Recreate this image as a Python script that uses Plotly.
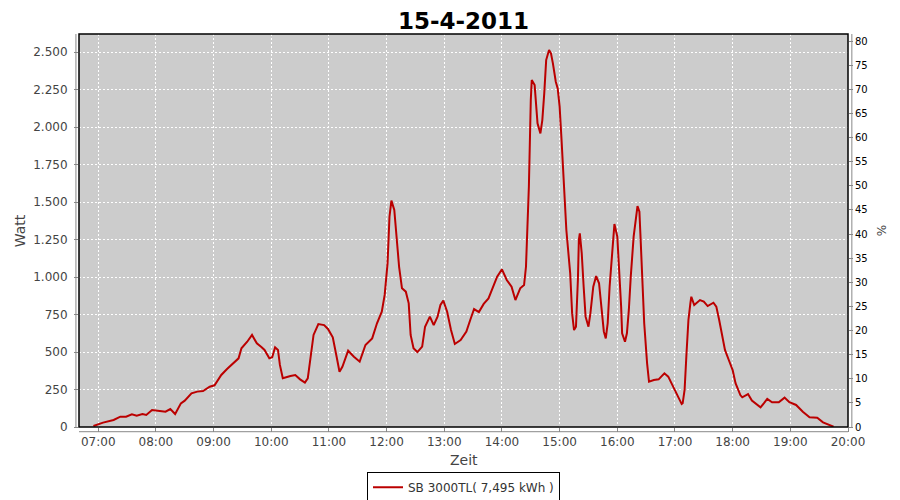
import plotly.graph_objects as go

times = ["06:55","07:05","07:16","07:23","07:29","07:35","07:40","07:46","07:50","07:56",
         "08:04","08:10","08:15","08:20","08:26","08:30","08:37","08:43","08:49","08:56",
         "09:01","09:08","09:14","09:20","09:26","09:29","09:35","09:40","09:45","09:50",
         "09:53","09:58","10:01","10:04","10:07","10:09","10:12","10:20","10:25","10:30",
         "10:35","10:38","10:41","10:44","10:49","10:55","10:59","11:04","11:08","11:11",
         "11:14","11:20","11:26","11:32","11:38","11:45","11:50","11:55","11:58","12:01",
         "12:03","12:05","12:08","12:11","12:13","12:16","12:20","12:23","12:25","12:28",
         "12:32","12:37","12:40","12:45","12:49","12:53","12:56","12:59","13:03","13:07",
         "13:11","13:17","13:23","13:27","13:31","13:36","13:41","13:46","13:51","13:55",
         "14:00","14:05","14:10","14:14","14:19","14:23","14:25","14:27","14:28","14:30",
         "14:31","14:34","14:36","14:37","14:40","14:42","14:44","14:46","14:49","14:51",
         "14:53","14:56","14:58","15:00","15:02","15:04","15:06","15:07","15:11","15:13",
         "15:15","15:17","15:19","15:20","15:21","15:23","15:25","15:27","15:30","15:32",
         "15:35","15:38","15:41","15:43","15:46","15:48","15:50","15:52","15:55","15:57",
         "16:00","16:02","16:04","16:05","16:08","16:10","16:12","16:14","16:17","16:21",
         "16:23","16:24","16:26","16:28","16:31","16:33","16:38","16:43","16:49","16:53",
         "16:59","17:03","17:07","17:08","17:10","17:12","17:14","17:16","17:17","17:20",
         "17:26","17:30","17:34","17:40","17:43","17:46","17:49","17:52","17:56","18:00",
         "18:03","18:08","18:10","18:16","18:20","18:26","18:29","18:33","18:36","18:41",
         "18:48","18:54","18:59","19:06","19:13","19:20","19:28","19:34","19:39","19:45"]

watt = [7,29,47,69,69,85,76,87,80,113,
        107,102,120,87,158,176,225,236,240,269,
        278,347,387,425,458,525,569,614,558,532,
        514,458,465,532,514,414,325,340,347,318,
        296,325,469,614,687,680,654,598,469,369,
        402,509,469,436,547,591,692,769,881,1092,
        1403,1510,1448,1225,1069,925,903,825,614,525,
        500,536,669,736,680,736,814,843,769,647,
        554,580,636,714,787,767,821,858,936,1003,
        1052,981,936,847,925,947,1069,1381,1603,2181,
        2315,2281,2137,2026,1959,2048,2226,2448,2515,2493,
        2426,2304,2259,2137,1915,1670,1403,1314,1025,758,
        647,669,981,1247,1292,1159,936,736,669,758,
        936,1007,959,825,636,591,692,936,1203,1354,
        1270,1069,803,625,569,625,781,1003,1270,1474,
        1437,1292,1003,692,425,302,314,318,358,336,
        258,207,153,158,247,492,714,825,869,814,
        847,836,807,829,803,714,602,514,447,380,
        292,213,198,220,176,147,131,162,187,165,
        165,196,165,147,102,65,62,31,18,2]

date = "2011-04-15 "
x_vals = [date + t for t in times]

watt_ticks = [0, 250, 500, 750, 1000, 1250, 1500, 1750, 2000, 2250, 2500]
watt_labels = ["0", "250", "500", "750", "1.000", "1.250", "1.500", "1.750", "2.000", "2.250", "2.500"]
pct_ticks = list(range(0, 81, 5))

title_text = "15-4-2011"
series_name = "SB 3000TL( 7,495 kWh )"

fig = go.Figure()
fig.add_trace(go.Scatter(x=x_vals, y=watt, mode="lines", name=series_name,
                         line=dict(color="#bb0000", width=2), showlegend=True))
fig.add_trace(go.Scatter(x=[x_vals[0]], y=[None], yaxis="y2", mode="lines",
                         showlegend=False, hoverinfo="skip"))

# page body adds an 8px margin, so the figure is 892x492 and offset accordingly
fig.update_layout(
    width=892, height=492,
    margin=dict(l=71, r=52, t=26, b=73, autoexpand=False),
    paper_bgcolor="white", plot_bgcolor="#cccccc",
    font=dict(family="DejaVu Sans", size=12, color="#444444"),
    title=dict(text="<b>" + title_text + "</b>", x=71/892 + 769/892/2, xanchor="center",
               y=1 - 13/492, yanchor="middle",
               font=dict(family="DejaVu Sans", size=23, color="black")),
    xaxis=dict(type="date", range=[date + "06:40", date + "20:00"], dtick=3600000,
               tick0=date + "07:00", tickformat="%H:%M", showgrid=True, gridcolor="white",
               griddash="2px,2px", gridwidth=1, ticks="outside", ticklen=4, tickcolor="#888888",
               showline=False, zeroline=False, tickfont=dict(size=12, color="#444444")),
    yaxis=dict(range=[0, 2622], tickvals=watt_ticks, ticktext=watt_labels, showgrid=True,
               gridcolor="white", griddash="2px,2px", gridwidth=1, ticks="outside", ticklen=4,
               tickcolor="#888888", showline=False, zeroline=False, ticklabelstandoff=4,
               tickfont=dict(size=12, color="#444444")),
    yaxis2=dict(range=[0, 81.45], tickvals=pct_ticks, overlaying="y", side="right",
                showgrid=False, ticks="outside", ticklen=4, tickcolor="#888888",
                showline=False, zeroline=False, tickfont=dict(size=10, color="black")),
    legend=dict(orientation="h", x=0.5, xanchor="center", y=-0.153, yanchor="middle",
                bordercolor="black", borderwidth=1, bgcolor="white", itemwidth=30,
                font=dict(size=12, color="#333333")),
    annotations=[
        dict(text="Watt", xref="paper", yref="paper", x=-0.077, y=0.5, showarrow=False,
             xanchor="center", yanchor="middle",
             textangle=-90, font=dict(size=14, color="#444444")),
        dict(text="Zeit", xref="paper", yref="paper", x=0.5, y=-0.085, showarrow=False,
             xanchor="center", yanchor="middle",
             font=dict(size=14, color="#444444")),
        dict(text="%", xref="paper", yref="paper", x=1.044, y=0.5, showarrow=False,
             xanchor="center", yanchor="middle",
             textangle=-90, font=dict(size=12, color="#444444")),
    ],
    shapes=[
        dict(type="rect", xref="paper", yref="paper", x0=0, x1=1, y0=0, y1=1,
             line=dict(color="black", width=1.5)),
        dict(type="line", xref="paper", yref="paper", x0=-0.004, x1=-0.004, y0=0, y1=1,
             line=dict(color="#888888", width=1)),
        dict(type="line", xref="paper", yref="paper", x0=0, x1=1, y0=-0.012, y1=-0.012,
             line=dict(color="#888888", width=1)),
        dict(type="line", xref="paper", yref="paper", x0=1.005, x1=1.005, y0=0, y1=1,
             line=dict(color="#888888", width=1)),
    ],
)

fig.write_html("out.html")
